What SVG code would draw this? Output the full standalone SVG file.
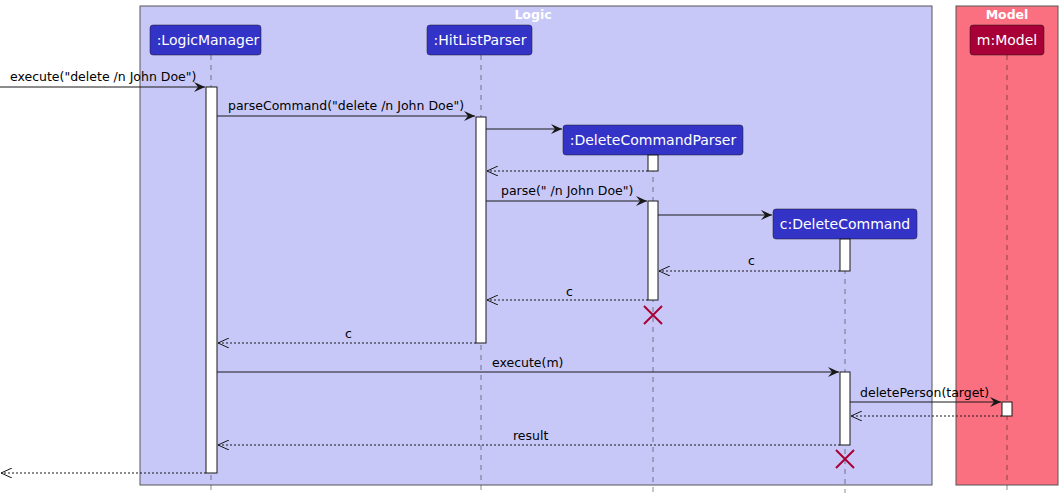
<svg xmlns="http://www.w3.org/2000/svg" width="1063" height="497" viewBox="0 0 1063 497">
<defs>
<marker id="ar" markerWidth="12" markerHeight="10" refX="11" refY="5" orient="auto" markerUnits="userSpaceOnUse"><path d="M0,0 L11,5 L0,10 L4,5 Z" fill="#181818"/></marker>
<marker id="ao" markerWidth="12" markerHeight="10" refX="11" refY="5" orient="auto" markerUnits="userSpaceOnUse"><path d="M0,0 L11,5 L0,10" fill="none" stroke="#181818"/></marker>
</defs>
<style>
text{font-family:"DejaVu Sans",sans-serif;font-size:12.5px;fill:#000}
.p rect{fill:#3333C8;stroke:#181818;stroke-width:0.5}
.p text{fill:#fff;font-size:14px;text-anchor:middle}
.m rect{fill:#A80036;stroke:#181818;stroke-width:0.5}
.ll{stroke:#181818;stroke-width:0.5;stroke-dasharray:5,5}
.act{fill:#fff;stroke:#181818;stroke-width:1}
.msg{stroke:#181818;stroke-width:1;marker-end:url(#ar)}
.ret{stroke:#181818;stroke-width:1;stroke-dasharray:2,2;marker-end:url(#ao)}
.x{stroke:#A80036;stroke-width:2}
.bt{fill:#fff;font-weight:bold;text-anchor:middle}
</style>
<rect x="140" y="6" width="792" height="479" fill="#C8C8F8" stroke="#555" stroke-width="1"/>
<text class="bt" x="533" y="19">Logic</text>
<rect x="956" y="6" width="102" height="479" fill="#FA7080" stroke="#555" stroke-width="1"/>
<text class="bt" x="1007" y="19">Model</text>
<g id="lifelines">
<line class="ll" x1="211" y1="55" x2="211" y2="493"/>
<line class="ll" x1="481" y1="55" x2="481" y2="493"/>
<line class="ll" x1="653" y1="157" x2="653" y2="493"/>
<line class="ll" x1="845" y1="239" x2="845" y2="493"/>
<line class="ll" x1="1007" y1="55" x2="1007" y2="493"/>
</g>
<g id="n1" class="p"><rect x="150" y="25" width="111" height="30" rx="3"/><text x="208" y="45">:LogicManager</text></g>
<g id="n2" class="p"><rect x="427" y="25" width="105" height="30" rx="3"/><text x="480" y="45">:HitListParser</text></g>
<g id="n3" class="p"><rect x="563" y="125" width="180" height="30" rx="3"/><text x="653" y="145">:DeleteCommandParser</text></g>
<g id="n4" class="p"><rect x="773" y="209" width="144" height="30" rx="3"/><text x="845" y="229">c:DeleteCommand</text></g>
<g id="n5" class="p m"><rect x="970" y="25" width="74" height="30" rx="3"/><text x="1007" y="45">m:Model</text></g>
<g id="activations">
<rect class="act" x="206" y="87" width="11" height="386"/>
<rect class="act" x="476" y="117" width="10" height="226"/>
<rect class="act" x="648" y="155" width="10" height="16"/>
<rect class="act" x="648" y="201" width="10" height="99"/>
<rect class="act" x="840" y="239" width="10" height="32"/>
<rect class="act" x="840" y="372" width="10" height="73"/>
<rect class="act" x="1002" y="402" width="10" height="14"/>
<path class="x" d="M644,306 L662,324 M662,306 L644,324 M836,450 L854,468 M854,450 L836,468"/>
</g>
<g id="connectors">
<line class="msg" x1="0" y1="87" x2="205" y2="87"/><text x="10" y="81">execute("delete /n John Doe")</text>
<line class="msg" x1="217" y1="116" x2="475" y2="116"/><text x="228" y="110">parseCommand("delete /n John Doe")</text>
<line class="msg" x1="486" y1="129" x2="562" y2="129"/>
<line class="ret" x1="648" y1="171" x2="487" y2="171"/>
<line class="msg" x1="486" y1="201" x2="647" y2="201"/><text x="501" y="195">parse(" /n John Doe")</text>
<line class="msg" x1="658" y1="215" x2="772" y2="215"/>
<line class="ret" x1="840" y1="271" x2="659" y2="271"/><text x="748" y="265">c</text>
<line class="ret" x1="648" y1="300" x2="487" y2="300"/><text x="566" y="296">c</text>
<line class="ret" x1="476" y1="343" x2="218" y2="343"/><text x="345" y="338">c</text>
<line class="msg" x1="217" y1="372" x2="839" y2="372"/><text x="492" y="367">execute(m)</text>
<line class="msg" x1="850" y1="402" x2="1001" y2="402"/><text x="860" y="397">deletePerson(target)</text>
<line class="ret" x1="1002" y1="416" x2="851" y2="416"/>
<line class="ret" x1="840" y1="445" x2="218" y2="445"/><text x="513" y="440">result</text>
<line class="ret" x1="206" y1="473" x2="1" y2="473"/>
</g>
</svg>
